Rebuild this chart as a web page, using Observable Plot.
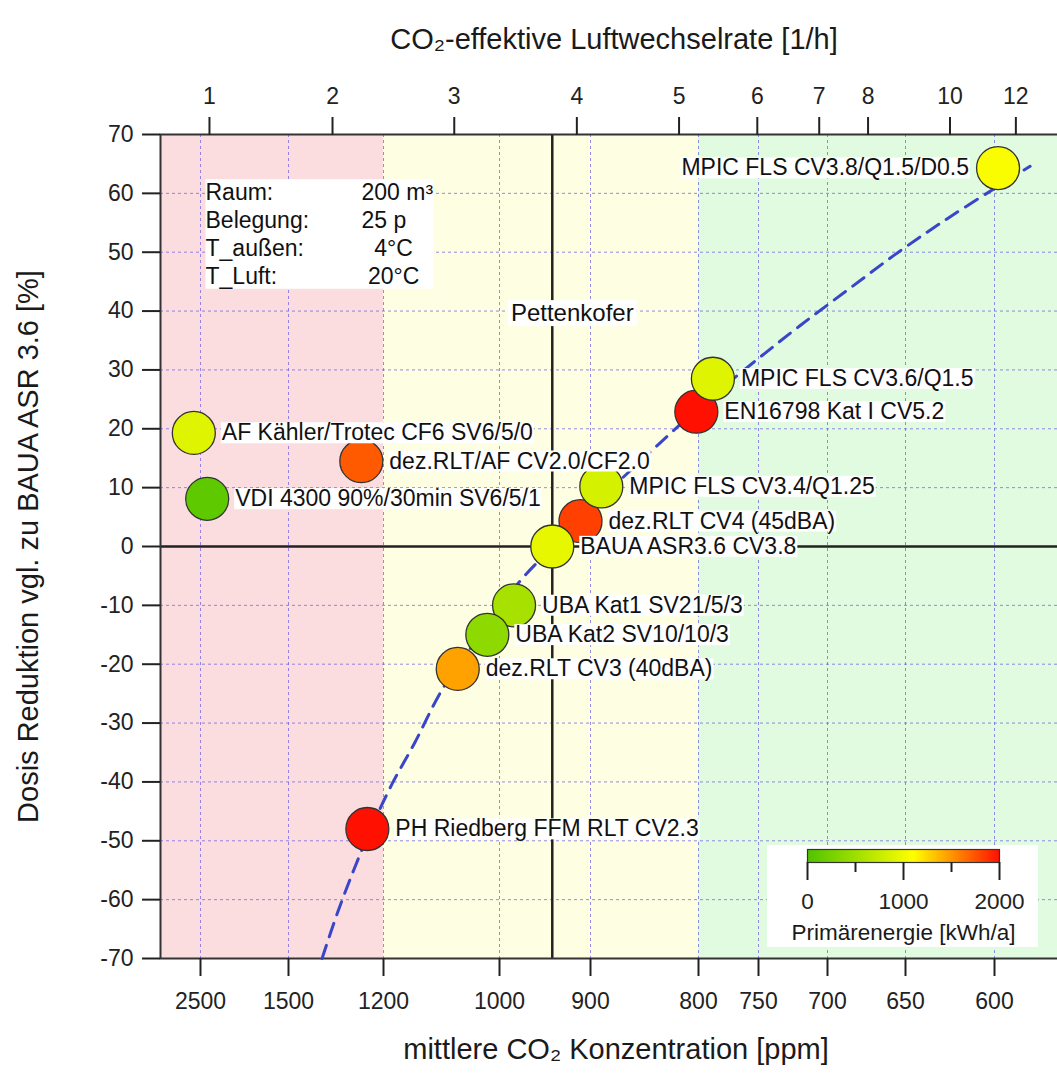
<!DOCTYPE html>
<html>
<head>
<meta charset="utf-8">
<script src="https://cdn.jsdelivr.net/npm/d3@7"></script>
<script src="https://cdn.jsdelivr.net/npm/@observablehq/plot@0.6"></script>
<style>
html, body { margin: 0; padding: 0; background: #fff; overflow: hidden; }
#chart { position: relative; width: 1057px; height: 1077px; }
#legend { position: absolute; left: 767px; top: 845px; }
</style>
</head>
<body>
<div id="chart"><div id="legend"></div></div>
<script>
// ---------------- data ----------------
const names = [
  "AF Kähler/Trotec CF6 SV6/5/0",
  "VDI 4300 90%/30min SV6/5/1",
  "dez.RLT/AF CV2.0/CF2.0",
  "PH Riedberg FFM RLT CV2.3",
  "EN16798 Kat I CV5.2",
  "MPIC FLS CV3.6/Q1.5",
  "dez.RLT CV4 (45dBA)",
  "MPIC FLS CV3.4/Q1.25",
  "BAUA ASR3.6 CV3.8",
  "UBA Kat1 SV21/5/3",
  "UBA Kat2 SV10/10/3",
  "dez.RLT CV3 (40dBA)",
  "MPIC FLS CV3.8/Q1.5/D0.5"
];
const co2ppm  = [2576, 2424, 1270, 1251, 802, 788, 911, 890, 942, 984, 1021, 1072, 598];
const doseRed = [19.3, 8.1, 14.5, -48.0, 22.9, 28.5, 4.3, 10.2, 0, -10.0, -15.0, -20.8, 64.3];
const primEnergy = [900, 100, 1720, 2000, 2000, 900, 1820, 830, 950, 545, 394, 1450, 1060];
const labelLeft = ["MPIC FLS CV3.8/Q1.5/D0.5"];

// dashed model curve
const curvePpm  = [1394, 1345, 1292, 1235, 1185, 1147, 1097, 1033, 977, 941, 900, 866, 835, 794, 754, 720, 685, 653, 624, 580];
const curveDose = [-70, -62.2, -54.7, -47.4, -40.3, -33.5, -24.0, -15.0, -5.8, 0, 6.5, 12.4, 17.7, 24.6, 31.3, 37.5, 44.0, 50.3, 56.2, 64.6];

// axes
const ppmTicks = [2500, 1500, 1200, 1000, 900, 800, 750, 700, 650, 600];
const achTicks = [1, 2, 3, 4, 5, 6, 7, 8, 10, 12];
const achPpm   = [2398, 1361, 1078, 915, 818, 751, 706, 674, 625, 588];
const doseTicks = [-70, -60, -50, -40, -30, -20, -10, 0, 10, 20, 30, 40, 50, 60, 70];
const energyTicks = [0, 1000, 2000];
const energyMinorTicks = [500, 1500];

// reference lines / zones
const zoneLimits = [1200, 800];
const pettenkoferPpm = 942;
const pettenkoferLabel = [{ppm: 920, dose: 39.6, text: "Pettenkofer"}];

// info box
const infoKeys = ["Raum:", "Belegung:", "T_außen:", "T_Luft:"];
const infoValues = ["200 m³", "25 p", "\u00a0\u00a04°C", "\u00a020°C"];

// ---------------- scale configuration & styles ----------------
const xTickPx = [200, 288, 383, 499, 590, 698, 758, 827, 905, 994]; // non-uniform axis layout
const W = 1057, H = 1077;
const M = {left: 160, right: -2, top: 134, bottom: 119};
const energyStops = [0, 1100, 2000];
const energyColors = ["#4fc400", "#ffff00", "#ff1000"];
const zoneFills = ["#fbdde0", "#fefee2", "#e0fbe0"];
const FONT = "'Liberation Sans', Arial, Helvetica, sans-serif";

const xs = d3.scaleLinear(ppmTicks, xTickPx);
const leftEdge = xs.invert(M.left);
const rightEdge = xs.invert(W - M.right);

const points = names.map((name, i) => ({name, ppm: co2ppm[i], dose: doseRed[i], energy: primEnergy[i]}));
const curve = curvePpm.map((p, i) => ({ppm: p, dose: curveDose[i]}));
const zones = [
  {x1: leftEdge, x2: zoneLimits[0]},
  {x1: zoneLimits[0], x2: zoneLimits[1]},
  {x1: zoneLimits[1], x2: rightEdge}
];
const achLabel = new Map(achPpm.map((p, i) => [p, String(achTicks[i])]));

const gridStyle = {stroke: "#6a5ae0", strokeOpacity: 0.7, strokeDasharray: "3,3", strokeWidth: 1};

const chart = Plot.plot({
  width: W, height: H,
  marginLeft: M.left, marginRight: M.right, marginTop: M.top, marginBottom: M.bottom,
  x: {type: "linear", domain: ppmTicks, range: xTickPx},
  y: {domain: [-70, 70]},
  color: {type: "linear", domain: energyStops, range: energyColors},
  style: {fontFamily: FONT, fontSize: "23px", color: "#222", background: "transparent", overflow: "visible"},
  marks: [
    ...zones.map((z, i) => Plot.rect([z], {x1: "x1", x2: "x2", fill: zoneFills[i]})),
    Plot.gridX(ppmTicks, gridStyle),
    Plot.gridY(doseTicks, gridStyle),
    Plot.ruleY([0], {stroke: "#222", strokeWidth: 2.5}),
    Plot.ruleX([pettenkoferPpm], {stroke: "#222", strokeWidth: 2.5}),
    Plot.frame({stroke: "#333", strokeWidth: 2}),
    Plot.axisX(ppmTicks, {anchor: "bottom", tickSize: 18, tickPadding: 16, tickFormat: d => String(d), label: null, fontSize: 23, strokeWidth: 2}),
    Plot.axisX(achPpm, {anchor: "top", tickSize: 18, tickPadding: 13, tickFormat: d => achLabel.get(d), label: null, fontSize: 23, strokeWidth: 2}),
    Plot.axisY(doseTicks, {anchor: "left", tickSize: 18, tickPadding: 9, tickFormat: d => String(d), label: null, fontSize: 23, strokeWidth: 2}),
    Plot.text(pettenkoferLabel, {x: "ppm", y: "dose", text: "text", fontSize: 24, fill: "#111"}),
    Plot.line(curve, {x: "ppm", y: "dose", stroke: "#3a45c8", strokeWidth: 3, strokeDasharray: "14,9", curve: "catmull-rom"}),
    Plot.dot(points, {x: "ppm", y: "dose", r: 21.5, fill: "energy", stroke: "#333", strokeWidth: 1.3}),
    Plot.text(points.filter(d => !labelLeft.includes(d.name)), {x: "ppm", y: "dose", text: "name", textAnchor: "start", dx: 28, fontSize: 23, fill: "#111"}),
    Plot.text(points.filter(d => labelLeft.includes(d.name)), {x: "ppm", y: "dose", text: "name", textAnchor: "end", dx: -29, fontSize: 23, fill: "#111"}),
    Plot.text([infoKeys.join("\n")], {text: d => d, frameAnchor: "top-left", dx: 45, dy: 46, lineAnchor: "top", lineHeight: 1.21, textAnchor: "start", fontSize: 23, fill: "#111"}),
    Plot.text([infoValues.join("\n")], {text: d => d, frameAnchor: "top-left", dx: 201, dy: 46, lineAnchor: "top", lineHeight: 1.21, textAnchor: "start", fontSize: 23, fill: "#111"}),
    Plot.text(["CO₂-effektive Luftwechselrate [1/h]"], {text: d => d, frameAnchor: "top", dx: 4, dy: -86, lineAnchor: "bottom", textAnchor: "middle", fontSize: 29, fill: "#1a1a1a"}),
    Plot.text(["mittlere CO₂ Konzentration [ppm]"], {text: d => d, frameAnchor: "bottom", dx: 6, dy: 100, lineAnchor: "bottom", textAnchor: "middle", fontSize: 29, fill: "#1a1a1a"}),
    Plot.text(["Dosis Reduktion vgl. zu BAUA ASR 3.6 [%]"], {text: d => d, frameAnchor: "left", rotate: -90, dx: -123, lineAnchor: "bottom", textAnchor: "middle", fontSize: 29, fill: "#1a1a1a"})
  ]
});

const host = document.getElementById("chart");
host.insertBefore(chart, host.firstChild);

// white boxes behind annotation texts (sized from the rendered text)
const svgNS = "http://www.w3.org/2000/svg";
function boxesBehind(svg, match, pad, union) {
  const s = svg.getBoundingClientRect();
  const texts = Array.from(svg.querySelectorAll("text")).filter(t => match(t.textContent));
  if (!texts.length) return;
  let boxes = texts.map(t => {
    const b = t.getBoundingClientRect();
    return [b.left - s.left, b.top - s.top, b.right - s.left, b.bottom - s.top];
  });
  if (union) {
    boxes = [[d3.min(boxes, b => b[0]), d3.min(boxes, b => b[1]), d3.max(boxes, b => b[2]), d3.max(boxes, b => b[3])]];
  }
  let anchor = texts[0];
  while (anchor.parentNode && anchor.parentNode !== svg) anchor = anchor.parentNode;
  for (const [x0, y0, x1, y1] of boxes) {
    const r = document.createElementNS(svgNS, "rect");
    r.setAttribute("x", x0 - pad.l);
    r.setAttribute("y", y0 + pad.t);
    r.setAttribute("width", Math.max(0, x1 - x0 + pad.l + pad.r));
    r.setAttribute("height", Math.max(0, y1 - y0 - pad.t - pad.b));
    r.setAttribute("fill", "#fff");
    svg.insertBefore(r, anchor);
  }
}
const nameSet = new Set(names);
boxesBehind(chart, s => nameSet.has(s), {l: 1, r: 1, t: 3, b: 2}, false);
boxesBehind(chart, s => s === pettenkoferLabel[0].text, {l: 3, r: 3, t: 1, b: 0}, false);
boxesBehind(chart, s => s.startsWith(infoKeys[0]) || s.startsWith(infoValues[0]), {l: 0, r: 0, t: 0, b: 0}, true);

// colour bar legend (inside the plot, bottom right)
const legend = Plot.plot({
  width: 271, height: 102,
  marginLeft: 40, marginRight: 39, marginTop: 4, marginBottom: 85,
  x: {domain: [energyTicks[0], energyTicks[energyTicks.length - 1]]},
  y: {domain: [0, 1], axis: null},
  color: {type: "linear", domain: energyStops, range: energyColors},
  style: {fontFamily: FONT, fontSize: "22.5px", color: "#222", background: "#fff"},
  marks: [
    Plot.raster({x1: energyTicks[0], x2: energyTicks[energyTicks.length - 1], y1: 0, y2: 1, fill: (x, y) => x}),
    Plot.frame({stroke: "#333", strokeWidth: 1.2}),
    Plot.axisX(energyTicks, {anchor: "bottom", tickSize: 18, tickPadding: 13, tickFormat: d => String(d), label: null, fontSize: 22.5, strokeWidth: 2}),
    Plot.axisX(energyMinorTicks, {anchor: "bottom", tickSize: 10, tickFormat: () => "", label: null, strokeWidth: 2}),
    Plot.text(["Primärenergie [kWh/a]"], {text: d => d, frameAnchor: "bottom", dy: 70, lineAnchor: "middle", fontSize: 22.5, fill: "#1a1a1a"})
  ]
});
document.getElementById("legend").appendChild(legend);
</script>
</body>
</html>
